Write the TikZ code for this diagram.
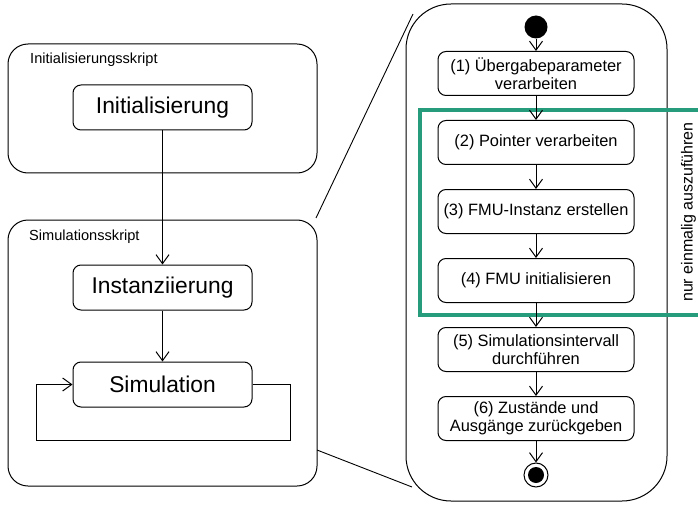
\documentclass[tikz,border=0pt]{standalone}
\usepackage{fontspec}
\setmainfont{Liberation Sans}
\usetikzlibrary{arrows.meta}
\definecolor{onceteal}{RGB}{38,156,124}
\newcommand{\vtip}{Straight Barb[length=9pt,width=13pt]}
\newcommand{\rowsep}{69}

\tikzset{
  script/.style={draw, line width=1pt, rounded corners=20pt, inner sep=0pt},
  scriptlabel/.style={anchor=base west, inner sep=0pt, font=\fontsize{14.6}{17}\selectfont},
  stage/.style={draw, line width=1pt, rounded corners=8pt, minimum width=179pt,
    minimum height=45pt, font=\fontsize{22.8}{26}\selectfont},
  action/.style={draw, line width=1pt, rounded corners=8pt, minimum width=196pt,
    minimum height=44pt, inner sep=0pt, align=center, font=\fontsize{16.4}{17.7}\selectfont},
  flow/.style={-{\vtip}, line width=1pt},
}

\begin{document}
\begin{tikzpicture}[x=1pt,y=-1pt]
\useasboundingbox (0,0) rectangle (698,505);
%scripts
\node[script, minimum width=309pt, minimum height=129pt] (initscript) at (162.5,108.5) {};
\node[scriptlabel] (initlabel) at (30,64) {Initialisierungsskript};
\node[stage] (init) at (162.5,107.5) {Initialisierung};
\node[script, minimum width=309pt, minimum height=266pt] (simscript) at (162.5,353) {};
\node[scriptlabel] (simlabel) at (29,240) {Simulationsskript};
\node[stage] (inst) at (162.5,287.5) {Instanziierung};
\node[stage] (sim) at (162.5,384.5) {Simulation};
\draw[flow] (init) -- (inst);
\draw[flow] (inst) -- (sim);
\draw[flow] (sim.east) -- ++(38,0) |- (36,440) |- (sim.west);
%detail of the simulation script
\node[script, rounded corners=45pt, minimum width=261pt, minimum height=497pt] (detail) at (536.5,252.5) {};
\coordinate (zoomtop) at (316,218);
\coordinate (zoombot) at (317,450);
\draw[line width=0.9pt] (zoomtop) -- (413,14);
\draw[line width=0.9pt] (zoombot) -- (412,487);
%once only
\draw[onceteal, line width=4pt] (710,110) -- (420,110) -- (420,315) -- (710,315);
\node[rotate=90, inner sep=0pt, font=\fontsize{16}{18}\selectfont] (once) at (688.5,212) {nur einmalig auszuführen};
%actions
\node[circle, fill, minimum size=23pt, inner sep=0pt] (start) at (536,27) {};
\node[action] (a1) at (536,73.5) {(1) Übergabeparameter\\verarbeiten};
\node[action] (a2) at (536,73.5+\rowsep) {(2) Pointer verarbeiten};
\node[action] (a3) at (536,73.5+2*\rowsep) {(3) FMU-Instanz erstellen};
\node[action] (a4) at (536,73.5+3*\rowsep) {(4) FMU initialisieren};
\node[action] (a5) at (536,73.5+4*\rowsep) {(5) Simulationsintervall\\durchführen};
\node[action] (a6) at (536,73.5+5*\rowsep) {(6) Zustände und\\Ausgänge zurückgeben};
\node[circle, draw, line width=1pt, minimum size=24pt, inner sep=0pt] (stop) at (536,475) {};
\fill (stop) circle (8pt);
\draw[flow] (start) -- (a1);
\draw[flow] (a1) -- (a2);
\draw[flow] (a2) -- (a3);
\draw[flow] (a3) -- (a4);
\draw[flow] (a4) -- (a5);
\draw[flow] (a5) -- (a6);
\draw[flow] (a6) -- (stop);
\end{tikzpicture}
\end{document}
